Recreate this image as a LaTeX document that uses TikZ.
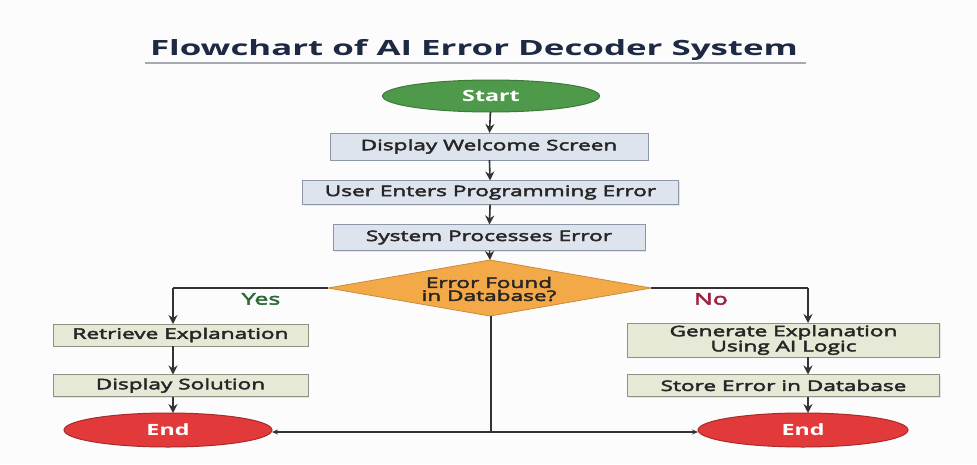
\documentclass[tikz,border=0pt]{standalone}
\usepackage{fontspec}
\setmainfont{Open Sans}[FakeStretch=1.5]
\newfontfamily\semifont{Open Sans}[FakeStretch=1.56,FakeBold=3.2]
\newfontfamily\titlefont{Open Sans}[FakeStretch=1.66]
\usetikzlibrary{shapes.geometric,arrows.meta,shadows}
\definecolor{bgc}{HTML}{FCFCFC}
\definecolor{titlec}{HTML}{1E2A44}
\definecolor{ulc}{HTML}{A4A9B2}
\definecolor{startf}{HTML}{4F9A4A}
\definecolor{startd}{HTML}{3C7A38}
\definecolor{endf}{HTML}{E23A3A}
\definecolor{endd}{HTML}{A82A2A}
\definecolor{bluef}{HTML}{DEE4EE}
\definecolor{blued}{HTML}{8C96A8}
\definecolor{beigef}{HTML}{E7E9D7}
\definecolor{beiged}{HTML}{8F9282}
\definecolor{decf}{HTML}{F4A948}
\definecolor{decd}{HTML}{C98A3A}
\definecolor{yesc}{HTML}{2F6B3A}
\definecolor{noc}{HTML}{9E2342}
\definecolor{linec}{HTML}{333333}
\definecolor{textc}{HTML}{262626}
\begin{document}
\begin{tikzpicture}[x=1pt,y=-1pt,
  every node/.style={inner sep=0pt,outer sep=0pt},
  txt/.style={font=\semifont\fontsize{14.5}{16}\selectfont,text=textc},
  shad/.style={drop shadow={opacity=0.18,shadow xshift=1.2pt,shadow yshift=-1.2pt}},
  bluebox/.style={rectangle,draw=blued,fill=bluef,line width=1pt,txt,shad},
  beigebox/.style={rectangle,draw=beiged,fill=beigef,line width=1pt,txt,align=center,shad},
  startell/.style={ellipse,draw=startd,fill=startf,line width=1pt,text=white,font=\fontsize{15.5}{17}\selectfont\bfseries},
  endell/.style={ellipse,draw=endd,fill=endf,line width=1pt,text=white,font=\fontsize{15.5}{17}\selectfont\bfseries},
  arr/.style={draw=linec,line width=1.6pt,-{Stealth[length=9pt,width=9pt]}},
  thinarr/.style={draw=linec,line width=1.1pt,-{Stealth[length=6pt,width=5pt]}},
  plain/.style={draw=linec,line width=1.3pt},
  lbl/.style={font=\semifont\fontsize{16}{18}\selectfont}
]
\useasboundingbox (0,0) rectangle (977,464);
\fill[bgc] (0,0) rectangle (977,464);

\node[font=\titlefont\fontsize{21}{24}\selectfont\bfseries,text=titlec] (title) at (474,50) {Flowchart of AI Error Decoder System};
\draw[ulc,line width=1.6pt] (145,63) -- (806,63);

\node[startell,minimum width=217pt,minimum height=32pt] (start) at (491,96) {Start};
\node[bluebox,minimum width=318pt,minimum height=27pt] (welcome) at (489,146.5) {Display Welcome Screen};
\node[bluebox,minimum width=376pt,minimum height=24pt] (enter) at (490.5,192.5) {User Enters Programming Error};
\node[bluebox,minimum width=312pt,minimum height=26pt] (process) at (489,237.5) {System Processes Error};

\coordinate (dtop) at (490,260);
\coordinate (dbot) at (490,316);
\coordinate (dl) at (328,288);
\coordinate (dr) at (651,288);
\fill[decf,draw=decd,line width=0.8pt] (dtop) -- (dr) -- (dbot) -- (dl) -- cycle;
\node[txt,align=center,font=\semifont\fontsize{14.5}{13}\selectfont] (dec) at (489,289) {Error Found\\in Database?};

\node[beigebox,minimum width=255pt,minimum height=22pt] (retr) at (180.5,335) {Retrieve Explanation};
\node[beigebox,minimum width=255pt,minimum height=22pt] (disp) at (180.5,385.5) {Display Solution};
\node[endell,minimum width=208pt,minimum height=34pt] (endl) at (168,430) {End};

\node[beigebox,minimum width=312pt,minimum height=34pt,font=\semifont\fontsize{14.5}{14}\selectfont] (gen) at (783.5,340) {Generate Explanation\\Using AI Logic};
\node[beigebox,minimum width=312pt,minimum height=22pt] (store) at (783.5,385.5) {Store Error in Database};
\node[endell,minimum width=210pt,minimum height=34pt] (endr) at (803,430) {End};

\node[lbl,text=yesc] (yes) at (261,299) {Yes};
\node[lbl,text=noc] (no) at (711,299) {No};

\coordinate (lc) at (173,288);
\coordinate (rc) at (808,288);
\coordinate (bc) at (491,432);

\draw[arr] (start) -- (welcome);
\draw[arr] (welcome) -- (enter);
\draw[arr] (enter) -- (process);
\draw[arr] (process) -- (dtop);
\draw[plain] (dl) -- (lc);
\draw[arr] (lc) -- (lc |- retr.north);
\draw[plain] (dr) -- (rc);
\draw[arr] (rc) -- (rc |- gen.north);
\draw[arr] (retr.south -| lc) -- (disp.north -| lc);
\draw[arr] (disp.south -| lc) -- (endl.north -| lc);
\draw[arr] (gen.south -| rc) -- (store.north -| rc);
\draw[arr] (store.south -| rc) -- (endr.north -| rc);
\draw[plain] (dbot -| bc) -- (bc);
\draw[thinarr] (bc) -- (endl.east |- bc);
\draw[thinarr] (bc) -- (endr.west |- bc);
\end{tikzpicture}
\end{document}
